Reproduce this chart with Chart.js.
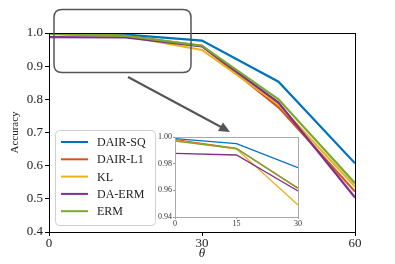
<!DOCTYPE html>
<html>
<head>
<meta charset="utf-8">
<script src="https://cdn.jsdelivr.net/npm/chart.js@4"></script>
<style>
  html, body { margin: 0; padding: 0; background: #fff; }
  #wrap { position: relative; width: 395px; height: 264px; }
  #mainChart { position: absolute; left: 0; top: 0; }
  #insetChart { position: absolute; left: 150px; top: 127px; }
</style>
</head>
<body>
<div id="wrap">
  <canvas id="mainChart" width="395" height="264"></canvas>
  <canvas id="insetChart" width="155" height="105"></canvas>
</div>
<script>
// data
const thetas = [0, 15, 30, 45, 60];
const seriesNames = ["DAIR-SQ", "DAIR-L1", "KL", "DA-ERM", "ERM"];
const dairSq = [0.99875, 0.995, 0.977, 0.853, 0.607];
const dairL1 = [0.998, 0.9915, 0.9615, 0.776, 0.522];
const kl     = [0.9975, 0.991, 0.949, 0.785, 0.537];
const daErm  = [0.98775, 0.9865, 0.9595, 0.790, 0.504];
const erm    = [0.997, 0.99125, 0.96175, 0.800, 0.547];
const xTicks = [0, 30, 60];
const yTicks = [0.4, 0.5, 0.6, 0.7, 0.8, 0.9, 1.0];
const insetXTicks = [0, 15, 30];
const insetYTicks = [0.94, 0.96, 0.98, 1.00];

const colors = ["#0072BD", "#D95319", "#EDB120", "#7E2F8E", "#77AC30"];
const allSeries = [dairSq, dairL1, kl, daErm, erm];
const serif = "'Liberation Serif', 'DejaVu Serif', serif";

function makeDatasets(n, width) {
    return allSeries.map((vals, i) => ({
        label: seriesNames[i],
        data: thetas.slice(0, n).map((t, j) => ({ x: t, y: vals[j] })),
        borderColor: colors[i],
        backgroundColor: colors[i],
        borderWidth: width,
        pointRadius: 0,
        fill: false,
        tension: 0,
        order: allSeries.length - i   // later series drawn on top
    }));
}

// top / right spines like matplotlib
const frame = {
    id: "frame",
    afterDraw(chart, args, opts) {
        const a = chart.chartArea, c = chart.ctx;
        c.save();
        c.strokeStyle = opts.color;
        c.lineWidth = 1;
        c.strokeRect(Math.round(a.left) + 0.5, Math.round(a.top) + 0.5,
                     Math.round(a.right - a.left), Math.round(a.bottom - a.top));
        c.restore();
    }
};

const whiteArea = {
    id: "whiteArea",
    beforeDraw(chart) {
        const a = chart.chartArea, c = chart.ctx;
        c.save();
        c.fillStyle = "#fff";
        c.fillRect(a.left, a.top, a.right - a.left, a.bottom - a.top);
        c.restore();
    }
};

function roundRect(c, x, y, w, h, r) {
    c.beginPath();
    c.moveTo(x + r, y);
    c.lineTo(x + w - r, y);
    c.quadraticCurveTo(x + w, y, x + w, y + r);
    c.lineTo(x + w, y + h - r);
    c.quadraticCurveTo(x + w, y + h, x + w - r, y + h);
    c.lineTo(x + r, y + h);
    c.quadraticCurveTo(x, y + h, x, y + h - r);
    c.lineTo(x, y + r);
    c.quadraticCurveTo(x, y, x + r, y);
    c.closePath();
}

// legend box + zoom marker + arrow
const extras = {
    id: "extras",
    afterDraw(chart) {
        const c = chart.ctx;
        c.save();
        // legend
        roundRect(c, 55.5, 130.5, 100, 95, 4);
        c.fillStyle = "rgba(255,255,255,0.85)";
        c.fill();
        c.strokeStyle = "#d0d0d0";
        c.lineWidth = 1;
        c.stroke();
        c.font = "12px " + serif;
        c.textBaseline = "middle";
        chart.data.datasets.forEach((ds, i) => {
            const y = 142 + i * 17.3;
            c.strokeStyle = ds.borderColor;
            c.lineWidth = 2;
            c.beginPath();
            c.moveTo(61, y);
            c.lineTo(88, y);
            c.stroke();
            c.fillStyle = "#222";
            c.fillText(ds.label, 97, y + 1);
        });
        // zoom marker
        roundRect(c, 54, 9.5, 137, 63, 8);
        c.strokeStyle = "#555";
        c.lineWidth = 1.5;
        c.stroke();
        // arrow
        c.strokeStyle = "#555";
        c.fillStyle = "#555";
        c.lineWidth = 2;
        c.beginPath();
        c.moveTo(128, 77);
        c.lineTo(222, 127.5);
        c.stroke();
        c.beginPath();
        c.moveTo(230, 132);
        c.lineTo(218, 131);
        c.lineTo(223, 122.5);
        c.closePath();
        c.fill();
        c.restore();
    }
};

new Chart(document.getElementById("mainChart"), {
    type: "line",
    data: { datasets: makeDatasets(thetas.length, 2.2) },
    options: {
        responsive: false,
        animation: false,
        layout: { padding: { left: 0, right: 40, top: 33, bottom: 0 } },
        plugins: {
            legend: { display: false },
            tooltip: { enabled: false },
            frame: { color: "#000" }
        },
        scales: {
            x: {
                type: "linear", min: 0, max: 60,
                afterBuildTicks: s => { s.ticks = xTicks.map(v => ({ value: v })); },
                afterFit: s => { s.height = 32; },
                grid: { drawOnChartArea: false, drawTicks: true, tickLength: 4, color: "#000" },
                border: { color: "#000", width: 1 },
                ticks: { color: "#222", font: { family: serif, size: 13 }, padding: 0 },
                title: { display: true, text: "θ", color: "#222",
                         font: { family: serif, size: 13, style: "italic" }, padding: { top: 0, bottom: 3 } }
            },
            y: {
                min: 0.4, max: 1.0,
                afterBuildTicks: s => { s.ticks = yTicks.map(v => ({ value: v })); },
                afterFit: s => { s.width = 49; },
                grid: { drawOnChartArea: false, drawTicks: true, tickLength: 4, color: "#000" },
                border: { color: "#000", width: 1 },
                ticks: { color: "#222", font: { family: serif, size: 13 }, padding: 2,
                         callback: v => v.toFixed(1) },
                title: { display: true, text: "Accuracy", color: "#222",
                         font: { family: serif, size: 11 }, padding: { top: 9, bottom: 0 } }
            }
        }
    },
    plugins: [frame, extras]
});

new Chart(document.getElementById("insetChart"), {
    type: "line",
    data: { datasets: makeDatasets(3, 1.3) },
    options: {
        responsive: false,
        animation: false,
        layout: { padding: { left: 0, right: 7, top: 10, bottom: 0 } },
        plugins: {
            legend: { display: false },
            tooltip: { enabled: false },
            frame: { color: "#aaa" }
        },
        scales: {
            x: {
                type: "linear", min: 0, max: 30,
                afterBuildTicks: s => { s.ticks = insetXTicks.map(v => ({ value: v })); },
                afterFit: s => { s.height = 15; },
                grid: { drawOnChartArea: false, drawTicks: true, tickLength: 2, color: "#999" },
                border: { color: "#999", width: 1 },
                ticks: { color: "#333", font: { family: serif, size: 8 }, padding: 0 }
            },
            y: {
                min: 0.94, max: 1.0,
                afterBuildTicks: s => { s.ticks = insetYTicks.map(v => ({ value: v })); },
                afterFit: s => { s.width = 25; },
                grid: { drawOnChartArea: false, drawTicks: true, tickLength: 2, color: "#999" },
                border: { color: "#999", width: 1 },
                ticks: { color: "#333", font: { family: serif, size: 8 }, padding: 1,
                         callback: v => v.toFixed(2) }
            }
        }
    },
    plugins: [whiteArea, frame]
});
</script>
</body>
</html>
